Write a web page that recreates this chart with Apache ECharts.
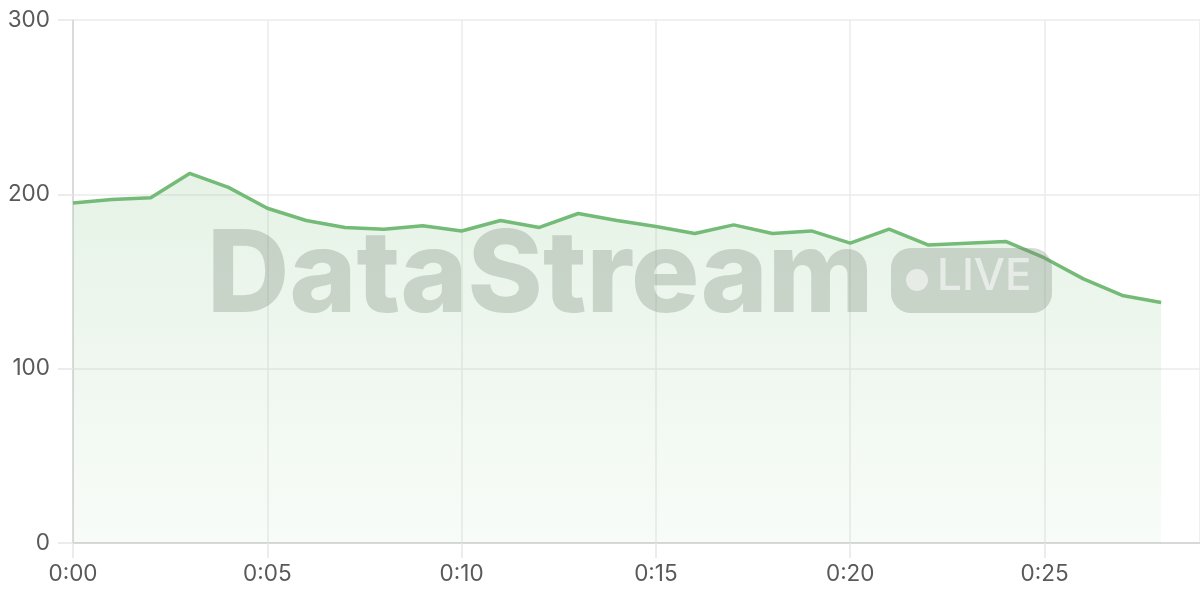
<!DOCTYPE html>
<html>
<head>
<meta charset="utf-8">
<script src="https://cdn.jsdelivr.net/npm/echarts@6/dist/echarts.min.js"></script>
<style>
html,body{margin:0;padding:0;background:#fff;}
#chart{width:1200px;height:600px;}
</style>
</head>
<body>
<div id="chart"></div>
<script>
// minutes since start
const minutes = [0,1,2,3,4,5,6,7,8,9,10,11,12,13,14,15,16,17,18,19,20,21,22,23,24,25,26,27,28];
const values  = [195,197,198,212,204,192,185,181,180,182,179,185,181,189,185,181.5,177.5,182.5,177.5,179,172,180,171,172,173,163.5,151.5,142,138];
const xTicks = [0,5,10,15,20,25];
const yTicks = [0,100,200,300];
const watermarkText = 'DataStream';
const badgeText = 'LIVE';

const fmtX = v => '0:' + String(v).padStart(2,'0');

const chart = echarts.init(document.getElementById('chart'), null, {renderer:'canvas'});
const labelFont = 'Inter, "Noto Sans", sans-serif';
const wmFill = 'rgba(120,134,120,0.30)';
chart.setOption({
  animation:false,
  backgroundColor:'#fff',
  grid:{left:73,right:0,top:20,bottom:57,containLabel:false},
  xAxis:{
    type:'value', min:0, max:29, interval:5,
    axisLine:{show:true,lineStyle:{color:'#cfcfcf',width:1.5}},
    axisTick:{show:true,length:15,lineStyle:{color:'#e6e6e6',width:1.5}},
    splitLine:{show:true,lineStyle:{color:'#ebebeb',width:1.5}},
    axisLabel:{formatter:v=>xTicks.includes(v)?fmtX(v):'',color:'#595959',fontSize:22.5,fontFamily:labelFont,margin:20,showMaxLabel:false}
  },
  yAxis:{
    type:'value', min:yTicks[0], max:yTicks[yTicks.length-1], interval:100,
    axisLine:{show:true,lineStyle:{color:'#d4d4d4',width:1.5}},
    axisTick:{show:true,length:15,lineStyle:{color:'#e6e6e6',width:1.5}},
    splitLine:{show:true,lineStyle:{color:'#ebebeb',width:1.5}},
    axisLabel:{color:'#595959',fontSize:22.5,fontFamily:labelFont,margin:23}
  },
  series:[{
    type:'line',
    data:minutes.map((m,i)=>[m,values[i]]),
    showSymbol:false,
    symbol:'none',
    lineStyle:{color:'#75bb78',width:3.5},
    itemStyle:{color:'#75bb78'},
    areaStyle:{color:new echarts.graphic.LinearGradient(0,0,0,1,[
      {offset:0,color:'rgba(117,187,120,0.26)'},
      {offset:1,color:'rgba(117,187,120,0.07)'}
    ])},
    z:2
  }],
  graphic:[
    {type:'text',left:207,top:221,z:100,silent:true,
     style:{text:watermarkText,fill:wmFill,font:'800 114px Inter, "Liberation Sans", sans-serif'}},
    {type:'rect',left:891,top:248,z:100,silent:true,
     shape:{width:161,height:65,r:20},style:{fill:wmFill}},
    {type:'circle',z:101,silent:true,shape:{cx:917,cy:280,r:11},style:{fill:'rgba(255,255,255,0.55)'}},
    {type:'text',left:937,top:255,z:101,silent:true,
     style:{text:badgeText,fill:'rgba(255,255,255,0.55)',font:'500 44px Inter, "Liberation Sans", sans-serif'}}
  ]
});
</script>
</body>
</html>
